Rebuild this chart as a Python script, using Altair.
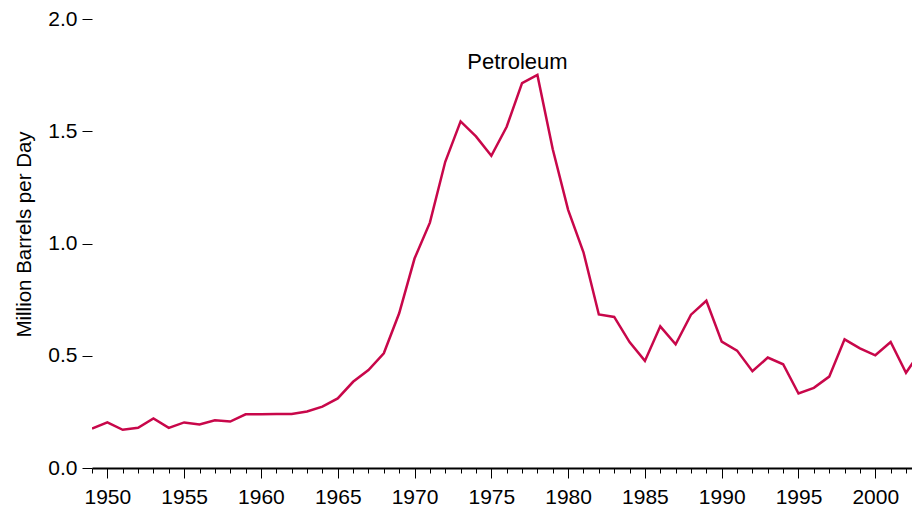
import altair as alt
import pandas as pd

years = list(range(1949, 2004))
values = [0.176, 0.203, 0.170, 0.179, 0.221, 0.179, 0.203, 0.194, 0.213, 0.207,
          0.239, 0.239, 0.240, 0.241, 0.252, 0.273, 0.310, 0.384, 0.436, 0.511,
          0.689, 0.933, 1.093, 1.364, 1.544, 1.477, 1.391, 1.520, 1.714, 1.751,
          1.420, 1.150, 0.961, 0.684, 0.673, 0.561, 0.477, 0.631, 0.551, 0.683,
          0.745, 0.563, 0.523, 0.431, 0.492, 0.462, 0.332, 0.357, 0.407, 0.573,
          0.533, 0.502, 0.561, 0.424, 0.524]

label_text = ["Petroleum"]
label_year = [1976.7]
label_value = [1.81]

major_years = [1950, 1955, 1960, 1965, 1970, 1975, 1980, 1985, 1990, 1995, 2000]
y_ticks = [0.0, 0.5, 1.0, 1.5, 2.0]

df = pd.DataFrame({"year": years, "value": values})
lab = pd.DataFrame({"text": label_text, "year": label_year, "value": label_value})

FONT = "Liberation Sans"
COLOR = "#c8074a"

xscale = alt.Scale(domain=[1949, 2002.39], nice=False, zero=False)
yscale = alt.Scale(domain=[0, 2], nice=False)

yaxis = alt.Axis(values=y_ticks, format=".1f", title="Million Barrels per Day",
                 domain=False, tickColor="black", tickSize=10, tickWidth=1,
                 labelFontSize=21, labelFont=FONT, labelColor="black",
                 labelPadding=5, titleFontSize=20.5, titleFont=FONT,
                 titleFontWeight="normal", titleColor="black",
                 titlePadding=13, titleY=215, grid=False)

minor = alt.Chart(df).mark_point(opacity=0).encode(
    x=alt.X("year:Q", scale=xscale,
            axis=alt.Axis(values=years, labels=False, title=None, domain=False,
                          orient="bottom", tickColor="black", tickSize=5,
                          tickWidth=1, grid=False)),
)

line = alt.Chart(df).mark_line(color=COLOR, strokeWidth=2.5, clip=True).encode(
    x=alt.X("year:Q", scale=xscale,
            axis=alt.Axis(values=major_years, format="d", title=None, orient="bottom",
                          domainColor="black", domainWidth=2, tickColor="black",
                          tickSize=10, tickWidth=1, labelFontSize=21, labelFont=FONT,
                          labelColor="black", labelPadding=8, grid=False)),
    y=alt.Y("value:Q", scale=yscale, axis=yaxis),
)

text = alt.Chart(lab).mark_text(font=FONT, fontSize=22, color="black",
                                align="center", baseline="middle").encode(
    x=alt.X("year:Q", scale=xscale, axis=None),
    y=alt.Y("value:Q", scale=yscale, axis=yaxis),
    text="text:N",
)

chart = alt.layer(minor, line, text).resolve_axis(x="independent").properties(
    width=820, height=449,
    background="white",
    autosize=alt.AutoSizeParams(type="none"),
    padding={"left": 84, "top": 11, "right": 0, "bottom": 40},
).configure_view(strokeWidth=0, stroke="transparent")

chart.save("out.html", embed_options={"renderer": "svg", "actions": False})
